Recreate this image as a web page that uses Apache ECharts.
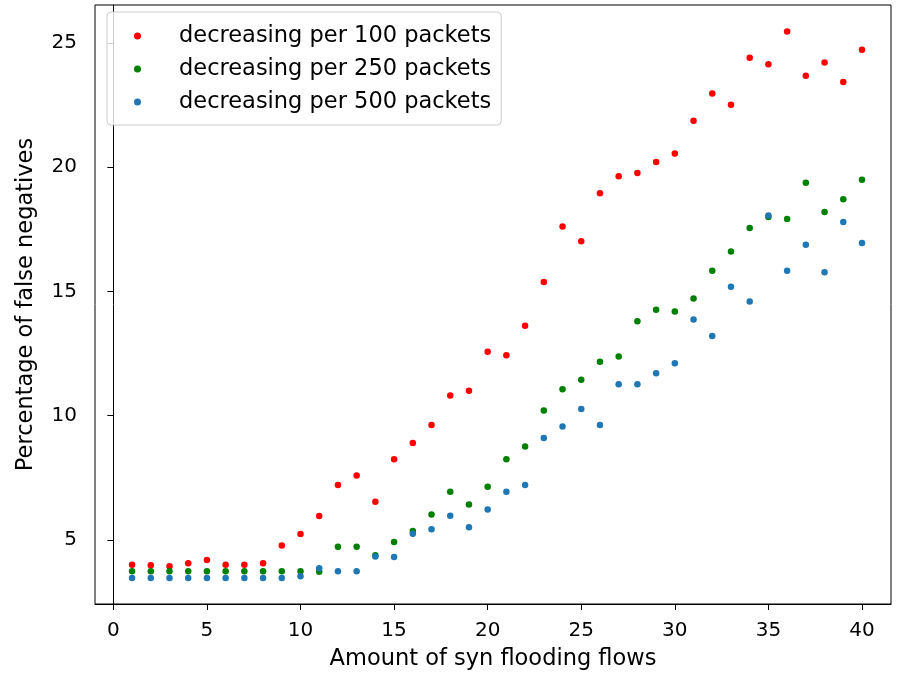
<!DOCTYPE html>
<html>
<head>
    <meta charset="utf-8">
    <title>False negatives scatter</title>
    <script src="https://cdn.jsdelivr.net/npm/echarts@6/dist/echarts.min.js"></script>
    <style>
        html, body { margin: 0; padding: 0; background: #fff; }
    </style>
</head>
<body>
    <div id="myEcharts" style="width: 901px;height:673px;"></div>
    <script type="text/javascript">
        // x values: amount of syn flooding flows
        var flows = [];
        for (var i = 1; i <= 40; i++) flows.push(i);

        var per100 = [4.0, 3.98, 3.94, 4.06, 4.19, 4.0, 4.0, 4.06, 4.77, 5.24,
            5.96, 7.21, 7.59, 6.54, 8.25, 8.9, 9.62, 10.81, 11.0, 12.57,
            12.43, 13.62, 15.38, 17.61, 17.02, 18.95, 19.64, 19.77, 20.21, 20.55,
            21.87, 22.97, 22.51, 24.41, 24.15, 25.46, 23.68, 24.22, 23.43, 24.73];
        var per250 = [3.74, 3.74, 3.74, 3.74, 3.74, 3.74, 3.74, 3.74, 3.74, 3.74,
            3.72, 4.72, 4.72, 4.38, 4.92, 5.36, 6.02, 6.94, 6.42, 7.14,
            8.25, 8.76, 10.21, 11.06, 11.45, 12.17, 12.38, 13.8, 14.26, 14.19,
            14.72, 15.83, 16.61, 17.55, 18.0, 17.92, 19.38, 18.2, 18.71, 19.5];
        var per500 = [3.47, 3.47, 3.47, 3.47, 3.47, 3.47, 3.47, 3.47, 3.47, 3.54,
            3.86, 3.74, 3.74, 4.33, 4.31, 5.25, 5.43, 5.97, 5.51, 6.22,
            6.94, 7.21, 9.1, 9.56, 10.27, 9.62, 11.26, 11.26, 11.71, 12.11,
            13.87, 13.21, 15.19, 14.6, 18.06, 15.83, 16.88, 15.77, 17.8, 16.95];

        var xTicks = [0, 5, 10, 15, 20, 25, 30, 35, 40];
        var yTicks = [5, 10, 15, 20, 25];

        function pairs(ys) {
            return flows.map(function (x, i) { return [x, ys[i]]; });
        }

        var font = 'DejaVu Sans';
        var myChart = echarts.init(document.getElementById('myEcharts'));
        var option = {
            animation: false,
            backgroundColor: '#fff',
            grid: {
                show: true,
                left: 95,
                right: 10,
                top: 5,
                bottom: 69,
                outerBoundsMode: 'none',
                containLabel: false,
                borderColor: '#000',
                borderWidth: 1
            },
            legend: {
                orient: 'vertical',
                left: 107,
                top: 12,
                padding: [11, 10, 10, 27],
                itemGap: 7,
                itemWidth: 7,
                itemHeight: 7,
                backgroundColor: 'rgba(255,255,255,0.8)',
                borderColor: '#cccccc',
                borderWidth: 1,
                borderRadius: 4,
                textStyle: {
                    fontFamily: font,
                    fontSize: 22.5,
                    color: '#000',
                    lineHeight: 26,
                    padding: [0, 0, 0, 33]
                },
                data: ['decreasing per 100 packets', 'decreasing per 250 packets', 'decreasing per 500 packets']
            },
            xAxis: {
                type: 'value',
                min: -0.98,
                max: 41.55,
                name: 'Amount of syn flooding flows',
                nameLocation: 'middle',
                nameGap: 44,
                nameTextStyle: { fontFamily: font, fontSize: 22.5, color: '#000' },
                axisLine: { show: true, lineStyle: { color: '#000', width: 1 } },
                axisTick: { show: true, inside: false, length: 6, lineStyle: { color: '#000' }, customValues: xTicks },
                axisLabel: { fontFamily: font, fontSize: 20, color: '#000', margin: 17, customValues: xTicks },
                splitLine: { show: false }
            },
            yAxis: {
                type: 'value',
                min: 2.42,
                max: 26.53,
                name: 'Percentage of false negatives',
                nameLocation: 'middle',
                nameGap: 57,
                nameTextStyle: { fontFamily: font, fontSize: 22.5, color: '#000' },
                axisLine: { show: true, lineStyle: { color: '#000', width: 1 } },
                axisTick: { show: true, inside: false, length: 6, lineStyle: { color: '#000' }, customValues: yTicks },
                axisLabel: { fontFamily: font, fontSize: 20, color: '#000', margin: 18, customValues: yTicks },
                splitLine: { show: false }
            },
            series: [
                {
                    name: 'decreasing per 100 packets',
                    type: 'scatter',
                    symbol: 'circle',
                    symbolSize: 6.5,
                    itemStyle: { color: '#ff0000', opacity: 1 },
                    data: pairs(per100)
                },
                {
                    name: 'decreasing per 250 packets',
                    type: 'scatter',
                    symbol: 'circle',
                    symbolSize: 6.5,
                    itemStyle: { color: '#008000', opacity: 1 },
                    data: pairs(per250)
                },
                {
                    name: 'decreasing per 500 packets',
                    type: 'scatter',
                    symbol: 'circle',
                    symbolSize: 6.5,
                    itemStyle: { color: '#1f77b4', opacity: 1 },
                    data: pairs(per500)
                }
            ]
        };
        myChart.setOption(option);
    </script>
</body>
</html>
